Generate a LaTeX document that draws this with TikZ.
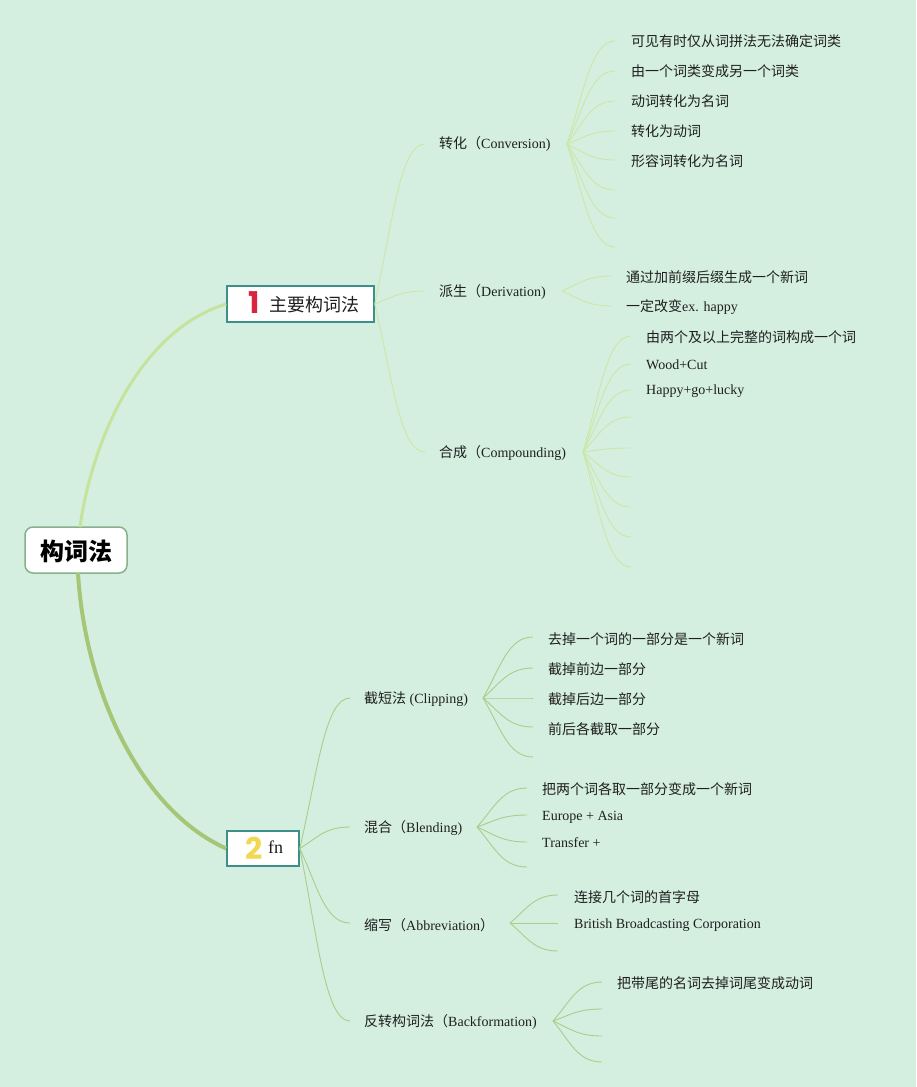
\documentclass[tikz,border=0pt]{standalone}
\usepackage{fontspec}
\setmainfont{Liberation Serif}
\newfontfamily\cjk{Noto Sans CJK SC}
\newfontfamily\numf{Poppins}
\usetikzlibrary{calc}
\definecolor{bg}{HTML}{D4EFE0}
\definecolor{txt}{HTML}{1F1F1F}
\definecolor{lineTop}{HTML}{CDE6A6}
\definecolor{lineBot}{HTML}{ABCD86}
\definecolor{rootUp}{HTML}{C6E39C}
\definecolor{rootDown}{HTML}{A4C676}
\definecolor{rootBorder}{HTML}{88B08D}
\definecolor{boxBorder}{HTML}{3E8E89}
\definecolor{redone}{HTML}{D8263F}
\definecolor{yellowtwo}{HTML}{F3D750}
\tikzset{
  leaf/.style={anchor=west, inner sep=0pt, text=txt, font=\fontsize{14}{16}\selectfont},
  sub/.style={anchor=west, inner sep=0pt, text=txt, font=\fontsize{14}{16}\selectfont},
  topln/.style={draw=lineTop, line width=0.9pt},
  botln/.style={draw=lineBot, line width=0.9pt},
  mainbox/.style={draw=boxBorder, line width=1.5pt, fill=white, minimum height=36pt, inner sep=0pt},
  rootbox/.style={draw=rootBorder, line width=1.5pt, fill=white, rounded corners=8pt, minimum width=102pt, minimum height=46pt, inner sep=0pt}
}
\newcommand{\brch}[3]{\draw[#1] let \p1=(#2), \p2=(#3) in (#2) .. controls ({\x1+0.35*(\x2-\x1)},{\y1+0.5*(\y2-\y1)}) and ({\x1+0.5*(\x2-\x1)},{\y2}) .. (#3);}
\begin{document}
\begin{tikzpicture}[x=1pt,y=-1pt]
\fill[bg] (0,0) rectangle (916,1087);
\useasboundingbox (0,0) rectangle (916,1087);

% root and main nodes
\node[rootbox] (root) at (76,550) {};
\node[inner sep=0pt, text=black, font=\fontsize{24}{26}\selectfont\cjk\bfseries] (roottxt) at (76,551) {构词法};

\node[mainbox, minimum width=147pt] (n1) at (300.5,304) {};
\node[inner sep=0pt, text=redone, font=\fontsize{30}{30}\selectfont\numf\bfseries] (n1num) at (254,303) {1};
\node[anchor=west, inner sep=0pt, text=txt, font=\fontsize{18}{20}\selectfont\cjk] (n1txt) at (269,305) {主要构词法};

\node[mainbox, minimum width=72pt, minimum height=35pt] (n2) at (263,848.5) {};
\node[inner sep=0pt, text=yellowtwo, font=\fontsize{30}{30}\selectfont\numf\bfseries] (n2num) at (254,848) {2};
\node[anchor=west, inner sep=0pt, text=txt, font=\fontsize{18}{20}\selectfont] (n2txt) at (268,847) {fn};

% root connectors
\coordinate (rootTop) at (80,527);
\coordinate (rootBot) at (78,573);
\draw[rootUp, line width=3pt] (rootTop) .. controls (92,440) and (140,330) .. (n1.west);
\draw[rootDown, line width=4pt] (rootBot) .. controls (85,690) and (140,810) .. (n2.west);

% ---------- branch 1 ----------
\node[sub] (conv) at (439,144) {{\cjk 转化（}Conversion)};
\node[sub] (deriv) at (439,292) {{\cjk 派生（}Derivation)};
\node[sub] (comp) at (439,453) {{\cjk 合成（}Compounding)};
\coordinate (convIn) at (425,144);
\coordinate (derivIn) at (425,291);
\coordinate (compIn) at (425,452);
\brch{topln}{n1.east}{convIn}
\brch{topln}{n1.east}{derivIn}
\brch{topln}{n1.east}{compIn}

% conversion leaves
\coordinate (convH) at (567,144);
\coordinate (c1) at (615,41);
\coordinate (c2) at (615,71);
\coordinate (c3) at (615,101);
\coordinate (c4) at (615,131);
\coordinate (c5) at (615,160);
\coordinate (c6) at (615,190);
\coordinate (c7) at (615,218);
\coordinate (c8) at (615,247);
\foreach \i in {1,...,8} {\brch{topln}{convH}{c\i}}
\node[leaf] (ct1) at (631,41) {\cjk 可见有时仅从词拼法无法确定词类};
\node[leaf] (ct2) at (631,71) {\cjk 由一个词类变成另一个词类};
\node[leaf] (ct3) at (631,101) {\cjk 动词转化为名词};
\node[leaf] (ct4) at (631,131) {\cjk 转化为动词};
\node[leaf] (ct5) at (631,161) {\cjk 形容词转化为名词};

% derivation leaves
\coordinate (derivH) at (562,291);
\coordinate (d1) at (612,276);
\coordinate (d2) at (612,306);
\foreach \i in {1,2} {\brch{topln}{derivH}{d\i}}
\node[leaf] (dt1) at (626,277) {\cjk 通过加前缀后缀生成一个新词};
\node[leaf] (dt2) at (626,307) {{\cjk 一定改变}ex. happy};

% compounding leaves
\coordinate (compH) at (583,452);
\coordinate (m1) at (631,336);
\coordinate (m2) at (631,364);
\coordinate (m3) at (631,390);
\coordinate (m4) at (631,417);
\coordinate (m5) at (631,448);
\coordinate (m6) at (631,477);
\coordinate (m7) at (631,507);
\coordinate (m8) at (631,537);
\coordinate (m9) at (631,567);
\foreach \i in {1,...,9} {\brch{topln}{compH}{m\i}}
\node[leaf] (mt1) at (646,337) {\cjk 由两个及以上完整的词构成一个词};
\node[leaf] (mt2) at (646,365) {Wood+Cut};
\node[leaf] (mt3) at (646,391) {Happy+go+lucky};

% ---------- branch 2 ----------
\node[sub] (clip) at (364,699) {{\cjk 截短法} (Clipping)};
\node[sub] (blend) at (364,828) {{\cjk 混合（}Blending)};
\node[sub] (abbr) at (364,925) {{\cjk 缩写（}Abbreviation{\cjk ）}};
\node[sub] (back) at (364,1022) {{\cjk 反转构词法（}Backformation)};
\coordinate (clipIn) at (350,698);
\coordinate (blendIn) at (350,827);
\coordinate (abbrIn) at (350,923);
\coordinate (backIn) at (350,1021);
\brch{botln}{n2.east}{clipIn}
\brch{botln}{n2.east}{blendIn}
\brch{botln}{n2.east}{abbrIn}
\brch{botln}{n2.east}{backIn}

% clipping leaves
\coordinate (clipH) at (483,698);
\coordinate (k1) at (533,637);
\coordinate (k2) at (533,668);
\coordinate (k3) at (533,698);
\coordinate (k4) at (533,727);
\coordinate (k5) at (533,757);
\foreach \i in {1,...,5} {\brch{botln}{clipH}{k\i}}
\node[leaf] (kt1) at (548,639) {\cjk 去掉一个词的一部分是一个新词};
\node[leaf] (kt2) at (548,669) {\cjk 截掉前边一部分};
\node[leaf] (kt3) at (548,699) {\cjk 截掉后边一部分};
\node[leaf] (kt4) at (548,729) {\cjk 前后各截取一部分};

% blending leaves
\coordinate (blendH) at (477,827);
\coordinate (b1) at (527,788);
\coordinate (b2) at (527,815);
\coordinate (b3) at (527,842);
\coordinate (b4) at (527,867);
\foreach \i in {1,...,4} {\brch{botln}{blendH}{b\i}}
\node[leaf] (bt1) at (542,789) {\cjk 把两个词各取一部分变成一个新词};
\node[leaf] (bt2) at (542,817) {Europe + Asia};
\node[leaf] (bt3) at (542,843) {Transfer +};

% abbreviation leaves
\coordinate (abbrH) at (510,923);
\coordinate (a1) at (558,895);
\coordinate (a2) at (558,923);
\coordinate (a3) at (558,951);
\foreach \i in {1,...,3} {\brch{botln}{abbrH}{a\i}}
\node[leaf] (at1) at (574,897) {\cjk 连接几个词的首字母};
\node[leaf] (at2) at (574,925) {British Broadcasting Corporation};

% backformation leaves
\coordinate (backH) at (553,1021);
\coordinate (f1) at (602,982);
\coordinate (f2) at (602,1009);
\coordinate (f3) at (602,1036);
\coordinate (f4) at (602,1062);
\foreach \i in {1,...,4} {\brch{botln}{backH}{f\i}}
\node[leaf] (ft1) at (617,983) {\cjk 把带尾的名词去掉词尾变成动词};
\end{tikzpicture}
\end{document}
